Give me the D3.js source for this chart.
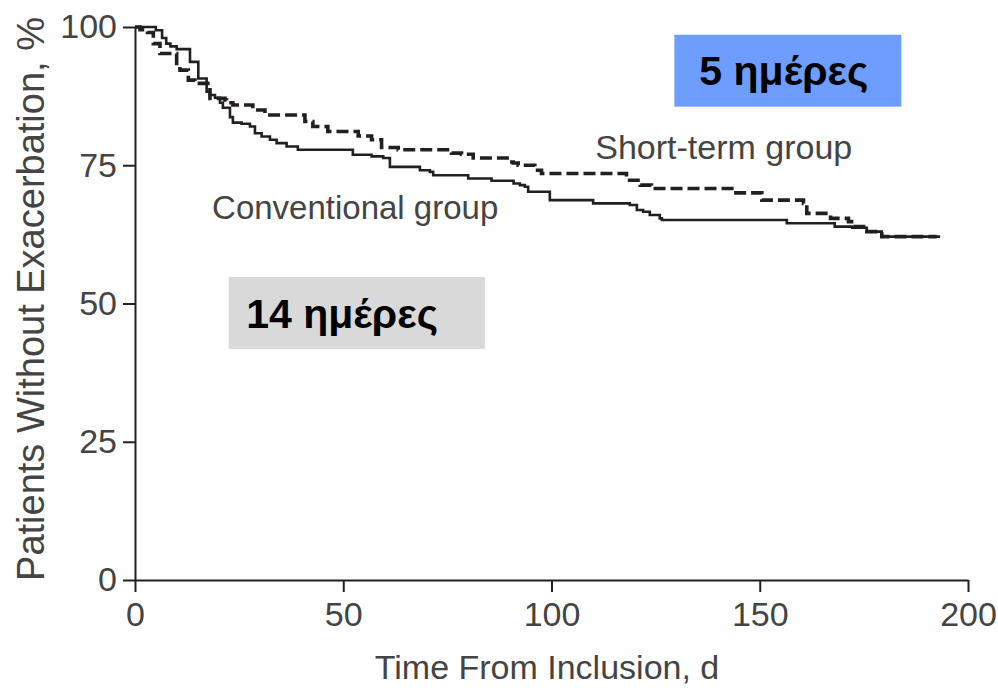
<!DOCTYPE html>
<html>
<head>
<meta charset="utf-8">
<script src="https://cdn.jsdelivr.net/npm/d3@7"></script>
<style>
  body { margin: 0; background: #fff; }
  svg { display: block; }
</style>
</head>
<body>
<div id="chart"></div>
<script>
// Kaplan-Meier step data (day of event, % after event)
const convDays = [0, 5, 6.5, 7.5, 8.5, 10, 13.2, 15.2, 17.2, 18, 19.2, 20.4, 21.1, 22.8, 23.5, 25.6, 27.6, 28.8, 30.4,
  32.4, 34, 36.4, 39.1, 52.3, 56.8, 59.6, 61.2, 68.4, 70.8, 71.6, 80, 85.6, 90.9, 92.4, 93.6, 94.4, 99.6, 110, 118.8,
  120.5, 122, 123.6, 126, 126.5, 156.5, 168, 172.2, 175.7, 179.3, 193.3];
const convPct = [100, 99.4, 98, 97, 96.5, 96, 93.7, 90.7, 88.3, 87.7, 87.2, 86.3, 85.4, 83.7, 82.7, 82.5, 82, 80.8, 80.2,
  79.6, 79, 78.4, 77.8, 76.9, 76.6, 76.3, 74.7, 74.1, 73.8, 73.2, 72.6, 72.2, 71.7, 71.4, 71.1, 70.2, 68.7, 68.1, 67.8,
  66.9, 66.6, 66, 65.4, 65.1, 64.5, 63.9, 63.7, 63, 62.1, 62.1];

const shortDays = [0, 1.2, 3, 4.4, 6, 10, 10.8, 12.8, 14.4, 18, 21.6, 22, 23.5, 28.3, 31.2, 40.8, 42.7, 46.3, 53.6, 56.8,
  59.2, 63.2, 76, 78.4, 81.2, 90, 90.8, 92, 96, 97.6, 118, 121.3, 124, 143.3, 150.5, 160.5, 161.3, 167, 171.3, 172.9,
  175.7, 179.3, 192.5];
const shortPct = [100, 99.5, 99, 97, 95.2, 92.8, 92.2, 90.4, 89.8, 87.1, 86.8, 86.3, 85.9, 85, 84.1, 82.9, 82, 81.1, 80.3,
  79.6, 78.2, 77.8, 77.2, 77, 76.3, 75.6, 75.4, 75, 74.1, 73.5, 72.3, 71.4, 70.8, 70, 68.7, 68.1, 66.3, 65.4, 64.8, 63.9,
  63, 62.1, 62.1];

const xTicks = [0, 50, 100, 150, 200];
const yTicks = [0, 25, 50, 75, 100];

const width = 998;
const height = 688;
const fontFamily = '"Liberation Sans", Arial, Helvetica, sans-serif';
const ink = '#231f20';
const textColor = '#444';

const svg = d3.select('#chart')
  .append('svg')
  .attr('width', width)
  .attr('height', height)
  .style('background', '#ffffff');

const x = d3.scaleLinear().domain([0, 200]).range([135, 968]);
const y = d3.scaleLinear().domain([0, 100]).range([580, 27]);

// Annotation boxes behind everything
const boxes = [
  { text: '5 ημέρες', fill: '#6d9eff', x0: 129.5, x1: 184, y0: 98.6, y1: 85.6, tx: 135.5 },
  { text: '14 ημέρες', fill: '#d9d9d9', x0: 22.5, x1: 84, y0: 54.8, y1: 41.8, tx: 26.7 }
];
boxes.forEach((b) => {
  svg.append('rect')
    .attr('x', x(b.x0))
    .attr('y', y(b.y0))
    .attr('width', x(b.x1) - x(b.x0))
    .attr('height', y(b.y1) - y(b.y0))
    .attr('fill', b.fill);
  svg.append('text')
    .attr('x', x(b.tx))
    .attr('y', (y(b.y0) + y(b.y1)) / 2)
    .attr('dy', '0.36em')
    .style('font-family', fontFamily)
    .style('font-weight', 700)
    .style('font-size', '41px')
    .attr('fill', '#000')
    .text(b.text);
});

// Axes
const xAxis = d3.axisBottom(x).tickValues(xTicks).tickSize(12).tickSizeOuter(0).tickPadding(10);
const yAxis = d3.axisLeft(y).tickValues(yTicks).tickSize(12).tickSizeOuter(0).tickPadding(6);

const gx = svg.append('g').attr('transform', `translate(0,${y(0)})`).call(xAxis);
const gy = svg.append('g').attr('transform', `translate(${x(0)},0)`).call(yAxis);

[gx, gy].forEach((g) => {
  g.select('.domain').attr('stroke', ink).attr('stroke-width', 2);
  g.selectAll('.tick line').attr('stroke', ink).attr('stroke-width', 2);
  g.selectAll('.tick text')
    .style('font-family', fontFamily)
    .style('font-size', '34px')
    .attr('fill', textColor);
});

// Axis titles
svg.append('text')
  .attr('x', 547)
  .attr('y', 679)
  .attr('text-anchor', 'middle')
  .style('font-family', fontFamily)
  .style('font-size', '34px')
  .attr('fill', textColor)
  .text('Time From Inclusion, d');

svg.append('text')
  .attr('transform', `translate(44,${(588 + 10) / 2}) rotate(-90)`)
  .attr('text-anchor', 'middle')
  .style('font-family', fontFamily)
  .style('font-size', '38px')
  .attr('fill', textColor)
  .text('Patients Without Exacerbation, %');

// Survival curves
const line = d3.line()
  .x((d) => x(d[0]))
  .y((d) => y(d[1]))
  .curve(d3.curveStepAfter);

const conv = convDays.map((d, i) => [d, convPct[i]]);
const short = shortDays.map((d, i) => [d, shortPct[i]]);

svg.append('path')
  .datum(conv)
  .attr('d', line)
  .attr('fill', 'none')
  .attr('stroke', ink)
  .attr('stroke-width', 2.6);

svg.append('path')
  .datum(short)
  .attr('d', line)
  .attr('fill', 'none')
  .attr('stroke', ink)
  .attr('stroke-width', 3.6)
  .attr('stroke-dasharray', '12,5');

// Curve labels
svg.append('text')
  .attr('x', x(110.5))
  .attr('y', 159)
  .style('font-family', fontFamily)
  .style('font-size', '34px')
  .attr('fill', textColor)
  .text('Short-term group');

svg.append('text')
  .attr('x', x(18.5))
  .attr('y', 219)
  .style('font-family', fontFamily)
  .style('font-size', '33px')
  .attr('fill', textColor)
  .text('Conventional group');
</script>
</body>
</html>
